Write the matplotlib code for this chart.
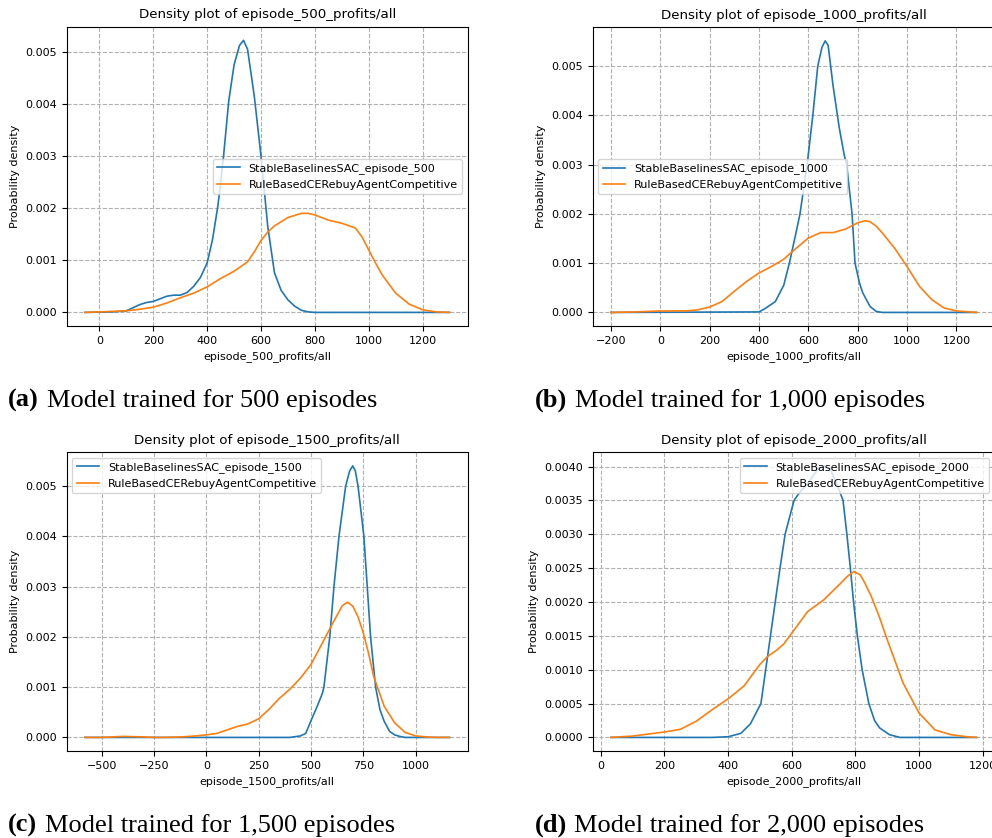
import matplotlib
matplotlib.use("Agg")
import matplotlib.pyplot as plt
import numpy as np

plt.rcParams['font.family'] = ['DejaVu Sans']
plt.rcParams['font.size'] = 8

# ---------------- data (density values in units of 1e-3) ----------------
a_blue_x = [-54, 0, 50, 100, 125, 150, 175, 200, 225, 250, 275, 300, 325, 350, 375, 400, 420, 440, 460,
            480, 500, 520, 535, 550, 575, 600, 625, 650, 675, 700, 725, 750, 775, 800, 1300]
a_blue_y = [0, 0.005, 0.01, 0.03, 0.09, 0.15, 0.19, 0.21, 0.26, 0.31, 0.33, 0.33, 0.38, 0.50, 0.67, 0.95,
            1.40, 2.05, 2.95, 4.05, 4.75, 5.12, 5.22, 5.05, 4.15, 3.00, 1.65, 0.76, 0.42, 0.24, 0.12, 0.04,
            0.01, 0.0, 0.0]
a_orange_x = [-54, 0, 50, 100, 150, 200, 250, 300, 350, 400, 450, 500, 550, 575, 600, 625, 650, 700, 750,
              775, 800, 850, 900, 950, 975, 1000, 1025, 1050, 1100, 1150, 1200, 1250, 1300]
a_orange_y = [0, 0.01, 0.02, 0.03, 0.06, 0.10, 0.18, 0.28, 0.37, 0.49, 0.65, 0.79, 0.97, 1.16, 1.38, 1.54,
              1.66, 1.82, 1.90, 1.90, 1.87, 1.77, 1.71, 1.62, 1.45, 1.20, 0.95, 0.72, 0.37, 0.16, 0.05,
              0.01, 0.0]

b_blue_x = [-200, 400, 425, 466, 500, 523, 550, 566, 595, 618, 638, 655, 668, 680, 700, 725, 745, 755,
            777, 789, 807, 820, 850, 875, 900, 1281]
b_blue_y = [0, 0.01, 0.08, 0.22, 0.55, 1.00, 1.62, 2.00, 3.00, 4.00, 5.00, 5.38, 5.51, 5.42, 4.60, 3.75,
            3.20, 3.00, 2.00, 1.00, 0.60, 0.40, 0.12, 0.02, 0.0, 0.0]
b_orange_x = [-200, -100, 0, 100, 150, 200, 250, 300, 350, 400, 450, 500, 550, 600, 650, 700, 750, 800,
              830, 850, 875, 900, 950, 1000, 1050, 1100, 1150, 1200, 1281]
b_orange_y = [0, 0.01, 0.03, 0.03, 0.05, 0.11, 0.22, 0.43, 0.63, 0.80, 0.93, 1.08, 1.30, 1.51, 1.62, 1.62,
              1.69, 1.82, 1.86, 1.84, 1.75, 1.61, 1.30, 0.93, 0.53, 0.26, 0.09, 0.03, 0.0]

c_blue_x = [-580, 400, 450, 475, 500, 530, 555, 562, 590, 610, 634, 666, 685, 700, 712, 725, 753, 769,
            785, 809, 830, 850, 876, 900, 925, 950, 1162]
c_blue_y = [0, 0.0, 0.03, 0.08, 0.33, 0.62, 0.88, 1.00, 2.00, 3.00, 4.00, 5.00, 5.30, 5.40, 5.30, 5.00,
            4.00, 3.00, 2.00, 1.00, 0.55, 0.32, 0.12, 0.05, 0.02, 0.0, 0.0]
c_orange_x = [-580, -500, -450, -400, -350, -300, -250, -200, -150, -100, -50, 0, 50, 100, 150, 200, 250,
              300, 350, 400, 450, 500, 550, 600, 650, 675, 700, 725, 750, 775, 800, 850, 900, 950, 1000,
              1050, 1100, 1162]
c_orange_y = [0, 0.0, 0.01, 0.02, 0.015, 0.01, 0.0, 0.0, 0.005, 0.015, 0.03, 0.05, 0.08, 0.15, 0.22, 0.27,
              0.37, 0.56, 0.78, 0.96, 1.18, 1.45, 1.84, 2.24, 2.62, 2.69, 2.61, 2.40, 2.08, 1.68, 1.21,
              0.62, 0.29, 0.10, 0.03, 0.01, 0.0, 0.0]

d_blue_x = [32, 350, 400, 440, 470, 503, 518, 533, 548, 563, 579, 607, 625, 650, 680, 700, 720, 745, 761,
            773, 784, 794, 806, 821, 842, 860, 876, 907, 940, 1180]
d_blue_y = [0, 0, 0.01, 0.06, 0.2, 0.5, 1.0, 1.5, 2.0, 2.5, 3.0, 3.5, 3.62, 3.75, 3.95, 4.01, 3.97, 3.7,
            3.5, 3.0, 2.5, 2.0, 1.5, 1.0, 0.5, 0.25, 0.14, 0.04, 0.0, 0.0]
d_orange_x = [32, 100, 150, 200, 250, 300, 350, 400, 450, 500, 525, 550, 575, 600, 650, 700, 750, 775, 795,
              815, 825, 850, 875, 900, 950, 1000, 1050, 1100, 1150, 1180]
d_orange_y = [0, 0.02, 0.05, 0.08, 0.12, 0.24, 0.41, 0.57, 0.76, 1.08, 1.2, 1.28, 1.38, 1.54, 1.86, 2.03,
              2.26, 2.38, 2.45, 2.40, 2.32, 2.08, 1.78, 1.44, 0.80, 0.36, 0.11, 0.04, 0.01, 0.0]

episodes = ["500", "1000", "1500", "2000"]
caption_letters = ["(a)", "(b)", "(c)", "(d)"]
caption_texts = ["Model trained for 500 episodes", "Model trained for 1,000 episodes",
                 "Model trained for 1,500 episodes", "Model trained for 2,000 episodes"]
rival_label = "RuleBasedCERebuyAgentCompetitive"

series = [
    (a_blue_x, a_blue_y, a_orange_x, a_orange_y),
    (b_blue_x, b_blue_y, b_orange_x, b_orange_y),
    (c_blue_x, c_blue_y, c_orange_x, c_orange_y),
    (d_blue_x, d_blue_y, d_orange_x, d_orange_y),
]

# ---------------- layout ----------------
W, H = 992, 838
fig = plt.figure(figsize=(W / 100, H / 100), dpi=100)

# axes boxes in pixels: left, top, right, bottom
boxes = [(66.7, 26.7, 467.7, 326), (592.7, 27.3, 994.7, 326),
         (66.7, 452.3, 467.7, 751), (592.7, 452.3, 994.7, 751)]
legend_locs = ["center right", "center left", "upper left", "upper right"]
cap_pos = [(8, 47, 407), (535, 575, 407), (8, 45, 832), (535, 574, 832)]

for i in range(4):
    l, t, r, b = boxes[i]
    ax = fig.add_axes([l / W, (H - b) / H, (r - l) / W, (b - t) / H])
    bx, by, ox, oy = series[i]
    ax.plot(bx, np.array(by) * 1e-3, color="#1f77b4", lw=1.2,
            label=f"StableBaselinesSAC_episode_{episodes[i]}")
    ax.plot(ox, np.array(oy) * 1e-3, color="#ff7f0e", lw=1.2, label=rival_label)
    ax.grid(True, linestyle="--", color="#b0b0b0", lw=0.8)
    ax.set_axisbelow(True)
    ax.set_title(f"Density plot of episode_{episodes[i]}_profits/all", fontsize=9.6)
    ax.set_xlabel(f"episode_{episodes[i]}_profits/all", fontsize=8)
    ax.set_ylabel("Probability density", fontsize=8)
    ax.tick_params(labelsize=8)
    ax.legend(loc=legend_locs[i], fontsize=8)

    x1, x2, yb = cap_pos[i]
    fig.text(x1 / W, (H - yb) / H, caption_letters[i], fontfamily="Liberation Serif",
             fontweight="bold", fontsize=19, va="baseline", ha="left")
    fig.text(x2 / W, (H - yb) / H, caption_texts[i], fontfamily="Liberation Serif",
             fontsize=19, va="baseline", ha="left")

fig.savefig("out.png", dpi=100)
